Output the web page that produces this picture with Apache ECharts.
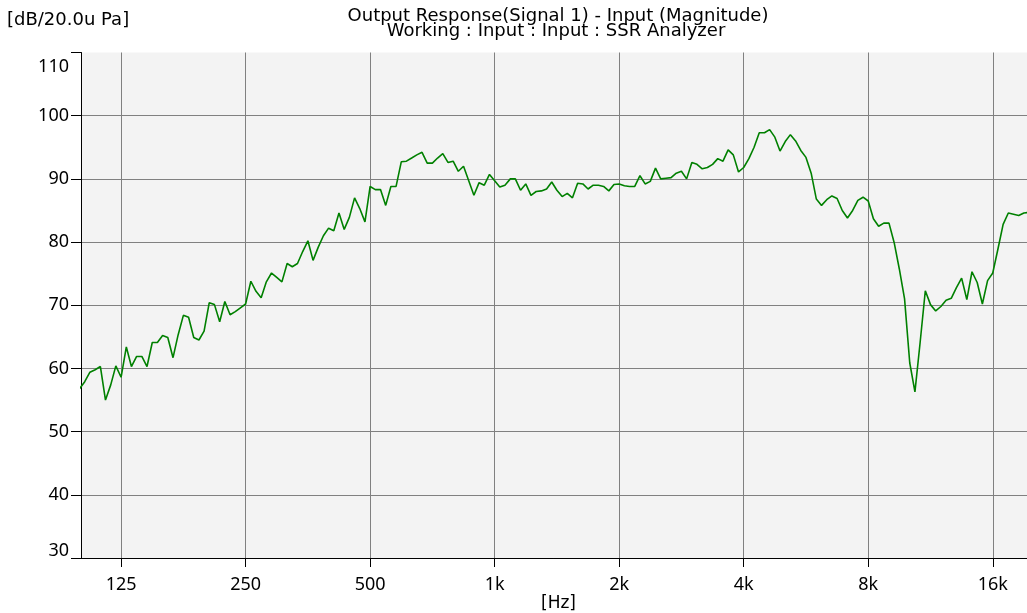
<!DOCTYPE html>
<html>
<head>
<meta charset="utf-8">
<script src="https://cdn.jsdelivr.net/npm/echarts@6/dist/echarts.min.js"></script>
<style>
  html, body { margin: 0; padding: 0; background: #fff; }
  #chart { width: 1027px; height: 613px; }
</style>
</head>
<body>
<div id="chart"></div>
<script>
// 1/24-octave analysis frequencies (Hz)
const freqs = [
  99.2, 102.1, 105.1, 108.2, 111.4, 114.6, 118.0, 121.4,
  125.0, 128.7, 132.4, 136.3, 140.3, 144.4, 148.7, 153.0, 157.5, 162.1, 166.9, 171.7,
  176.8, 182.0, 187.3, 192.8, 198.4, 204.2, 210.2, 216.4, 222.7, 229.3, 236.0, 242.9,
  250, 257.4, 264.9, 272.6, 280.6, 288.8, 297.3, 306.0, 315.0, 324.2, 333.7, 343.5,
  353.6, 363.9, 374.6, 385.5, 396.8, 408.4, 420.4, 432.8, 445.4, 458.5, 471.9, 485.8,
  500, 514.7, 529.7, 545.3, 561.2, 577.7, 594.6, 612.0, 630.0, 648.4, 667.4, 687.0,
  707.1, 727.8, 749.2, 771.1, 793.7, 817.0, 840.9, 865.6, 890.9, 917.0, 943.9, 971.6,
  1000, 1029, 1059, 1091, 1122, 1155, 1189, 1224, 1260, 1297, 1335, 1374,
  1414, 1456, 1498, 1542, 1587, 1634, 1682, 1731, 1782, 1834, 1888, 1943,
  2000, 2059, 2119, 2181, 2245, 2311, 2378, 2448, 2520, 2594, 2670, 2748,
  2828, 2911, 2997, 3084, 3175, 3268, 3364, 3462, 3564, 3668, 3775, 3886,
  4000, 4117, 4238, 4362, 4490, 4621, 4757, 4896, 5040, 5187, 5339, 5496,
  5657, 5823, 5993, 6169, 6350, 6535, 6727, 6924, 7127, 7336, 7551, 7772,
  8000, 8234, 8476, 8724, 8980, 9243, 9514, 9793, 10079, 10375, 10679, 10992,
  11314, 11646, 11987, 12338, 12699, 13071, 13454, 13849, 14254, 14672, 15102, 15545,
  16000, 16469, 16951, 17448, 17959, 18486, 19027, 19585
];

// Magnitude (dB re 20 uPa)
const levels = [
  56.8, 57.9, 59.4, 59.8, 60.3, 55.0, 57.4, 60.4,
  58.6, 63.4, 60.3, 61.9, 61.9, 60.3, 64.1, 64.1, 65.2, 64.9, 61.7, 65.3,
  68.4, 68.1, 64.9, 64.5, 65.9, 70.4, 70.1, 67.4, 70.6, 68.5, 69.0, 69.6,
  70.2, 73.8, 72.2, 71.2, 73.7, 75.1, 74.4, 73.7, 76.6, 76.1, 76.6, 78.5,
  80.2, 77.1, 79.2, 81.0, 82.2, 81.8, 84.6, 82.0, 83.9, 87.0, 85.3, 83.2,
  88.8, 88.3, 88.3, 85.8, 88.8, 88.8, 92.7, 92.8, 93.3, 93.8, 94.2, 92.5,
  92.5, 93.3, 94.0, 92.6, 92.8, 91.2, 92.0, 89.7, 87.4, 89.4, 89.0, 90.7,
  89.7, 88.7, 89.0, 90.0, 90.0, 88.2, 89.2, 87.4, 88.0, 88.1, 88.4, 89.5,
  88.2, 87.2, 87.7, 87.0, 89.3, 89.2, 88.4, 89.0, 89.0, 88.8, 88.1, 89.1,
  89.2, 88.9, 88.8, 88.8, 90.5, 89.2, 89.6, 91.7, 90.0, 90.1, 90.2, 90.9,
  91.2, 90.0, 92.6, 92.3, 91.6, 91.8, 92.3, 93.2, 92.8, 94.6, 93.8, 91.1,
  91.8, 93.2, 95.0, 97.3, 97.3, 97.8, 96.6, 94.4, 95.9, 97.0, 96.0, 94.5,
  93.4, 90.9, 86.8, 85.8, 86.7, 87.3, 86.9, 85.0, 83.8, 85.0, 86.6, 87.1,
  86.5, 83.7, 82.5, 83.0, 83.0, 79.9, 75.7, 71.0, 60.9, 56.3, 64.1, 72.3,
  70.1, 69.1, 69.8, 70.8, 71.1, 72.8, 74.3, 70.9, 75.3, 73.6, 70.2, 73.9,
  75.1, 78.9, 82.8, 84.6, 84.4, 84.2, 84.6, 84.7
];

const xTickFreqs = [125, 250, 500, 1000, 2000, 4000, 8000, 16000];
const xTickLabels = ['125', '250', '500', '1k', '2k', '4k', '8k', '16k'];
const yTicks = [30, 40, 50, 60, 70, 80, 90, 100, 110];

const titleLine1 = 'Output Response(Signal 1) - Input (Magnitude)';
const titleLine2 = 'Working : Input : Input : SSR Analyzer';
const yUnit = '[dB/20.0u Pa]';
const xUnit = '[Hz]';

const FONT = '"Noto Sans", "Open Sans", sans-serif';
const TFONT = '"DejaVu Sans", "Noto Sans", sans-serif';
const xTickPos = xTickFreqs.map(f => Math.log2(f));
const seriesData = freqs.map((f, i) => [Math.log2(f), levels[i]]);

const chart = echarts.init(document.getElementById('chart'), null, { renderer: 'canvas' });
chart.setOption({
  animation: false,
  backgroundColor: '#ffffff',
  grid: {
    left: 81, right: 0, top: 52.5, bottom: 55,
    show: true, backgroundColor: '#f3f3f3', borderWidth: 0
  },
  graphic: [
    { type: 'text', x: 558, y: 16, style: { text: titleLine1, fill: '#000', font: '18px ' + TFONT, textAlign: 'center', textVerticalAlign: 'middle' } },
    { type: 'text', x: 556, y: 31.5, style: { text: titleLine2, fill: '#000', font: '18px ' + TFONT, textAlign: 'center', textVerticalAlign: 'middle' } },
    { type: 'text', x: 7, y: 20, style: { text: yUnit, fill: '#000', font: '18px ' + TFONT, textAlign: 'left', textVerticalAlign: 'middle' } },
    { type: 'text', x: 558.5, y: 604, style: { text: xUnit, fill: '#000', font: '17px ' + TFONT, textAlign: 'center', textVerticalAlign: 'middle' } }
  ],
  xAxis: {
    type: 'value',
    min: Math.log2(100),
    max: Math.log2(19360),
    axisLine: { show: true, lineStyle: { color: '#000', width: 1 } },
    axisTick: { show: true, length: 9, customValues: xTickPos, lineStyle: { color: '#000' } },
    axisLabel: {
      customValues: xTickPos,
      color: '#000', fontSize: 18, fontFamily: FONT, margin: 18,
      formatter: v => {
        const i = xTickPos.findIndex(p => Math.abs(p - v) < 1e-6);
        return i >= 0 ? xTickLabels[i] : '';
      }
    },
    splitLine: { show: true, lineStyle: { color: '#808080', width: 1 } }
  },
  yAxis: {
    type: 'value',
    min: yTicks[0],
    max: yTicks[yTicks.length - 1],
    interval: 10,
    axisLine: { show: true, lineStyle: { color: '#000', width: 1 } },
    axisTick: { show: true, length: 10, lineStyle: { color: '#000' } },
    axisLabel: {
      color: '#000', fontSize: 18, fontFamily: FONT, margin: 12,
      formatter: v => {
        if (v === yTicks[yTicks.length - 1]) return '{top|' + v + '}';
        if (v === yTicks[0]) return '{bot|' + v + '}';
        return String(v);
      },
      rich: {
        top: { padding: [29, 0, 0, 0], fontSize: 18, fontFamily: FONT, color: '#000' },
        bot: { padding: [0, 0, 15, 0], fontSize: 18, fontFamily: FONT, color: '#000' }
      }
    },
    splitLine: { show: true, showMaxLine: false, showMinLine: false, lineStyle: { color: '#808080', width: 1 } }
  },
  series: [{
    type: 'line',
    data: seriesData,
    showSymbol: false,
    symbol: 'none',
    clip: true,
    lineStyle: { color: '#008000', width: 1.6 },
    itemStyle: { color: '#008000' }
  }]
});
</script>
</body>
</html>
